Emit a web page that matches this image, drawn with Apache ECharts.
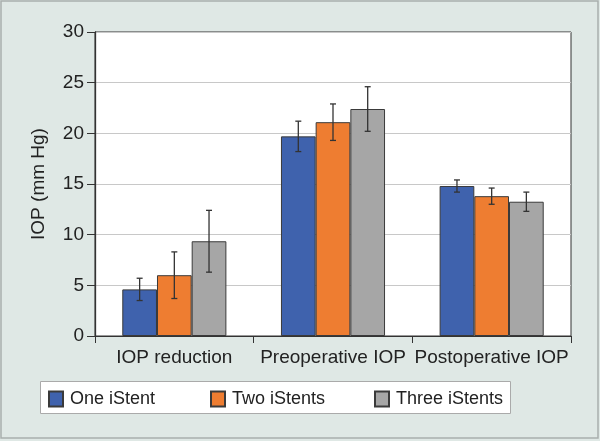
<!DOCTYPE html>
<html>
<head>
<meta charset="utf-8">
<script src="https://cdn.jsdelivr.net/npm/echarts@6/dist/echarts.min.js"></script>
<style>html,body{margin:0;padding:0;background:#dfe8e5;}#c{width:600px;height:441px;}</style>
</head>
<body>
<div id="c"></div>
<script>
var categories = ['IOP reduction', 'Preoperative IOP', 'Postoperative IOP'];
var seriesNames = ['One iStent', 'Two iStents', 'Three iStents'];
var colors = ['#3f62ad', '#ee7d31', '#a6a6a6'];
var oneMean = [4.6, 19.7, 14.8];
var oneErr = [1.1, 1.5, 0.6];
var twoMean = [6.0, 21.1, 13.8];
var twoErr = [2.3, 1.8, 0.8];
var threeMean = [9.35, 22.4, 13.25];
var threeErr = [3.05, 2.2, 0.95];
var yTicks = [0, 5, 10, 15, 20, 25, 30];

var means = [oneMean, twoMean, threeMean];
var errs = [oneErr, twoErr, threeErr];
var gapFrac = 0.344;

var FONT = 'Liberation Sans, Arial, sans-serif';
var chart = echarts.init(document.getElementById('c'));

var series = [];
means.forEach(function (m, k) {
  series.push({
    name: seriesNames[k],
    type: 'bar',
    data: m,
    barGap: '0%',
    barCategoryGap: (gapFrac * 100) + '%',
    itemStyle: { color: colors[k], borderColor: '#3a3a3a', borderWidth: 1 },
    emphasis: { disabled: true }
  });
});
means.forEach(function (m, k) {
  series.push({
    type: 'custom',
    silent: true,
    z: 10,
    data: m.map(function (v, i) { return [i, v - errs[k][i], v + errs[k][i]]; }),
    renderItem: function (params, api) {
      var ci = api.value(0);
      var lo = api.coord([ci, api.value(1)]);
      var hi = api.coord([ci, api.value(2)]);
      var band = api.size([1, 0])[0];
      var bw = band * (1 - gapFrac) / 3;
      var x = lo[0] + (k - 1) * bw;
      var c = 3;
      var st = { stroke: '#333', lineWidth: 1.3 };
      return {
        type: 'group',
        children: [
          { type: 'line', shape: { x1: x, y1: lo[1], x2: x, y2: hi[1] }, style: st },
          { type: 'line', shape: { x1: x - c, y1: lo[1], x2: x + c, y2: lo[1] }, style: st },
          { type: 'line', shape: { x1: x - c, y1: hi[1], x2: x + c, y2: hi[1] }, style: st }
        ]
      };
    }
  });
});

var legends = [48, 210, 374].map(function (l, k) {
  return {
    data: [seriesNames[k]],
    left: l,
    top: 390,
    padding: 0,
    itemWidth: 14,
    itemHeight: 15,
    selectedMode: false,
    icon: 'rect',
    textStyle: { fontFamily: FONT, fontSize: 18, color: '#222', padding: [0, 0, 0, 2] }
  };
});

chart.setOption({
  backgroundColor: '#dfe8e5',
  animation: false,
  graphic: [
    { type: 'rect', shape: { x: 1, y: 1, width: 597, height: 437 }, style: { fill: 'none', stroke: '#a9afad', lineWidth: 1.5 }, z: -10 },
    { type: 'rect', shape: { x: 40.5, y: 381.5, width: 470, height: 32 }, style: { fill: '#fff', stroke: '#aaa', lineWidth: 1 }, z: -5 }
  ],
  legend: legends,
  grid: { left: 95, right: 29, top: 32, bottom: 105, show: true, backgroundColor: '#fff', borderColor: '#333', borderWidth: 1 },
  xAxis: {
    type: 'category',
    data: categories,
    axisLine: { lineStyle: { color: '#333', width: 1 } },
    axisTick: { show: true, length: 7, lineStyle: { color: '#333' } },
    axisLabel: { fontFamily: FONT, fontSize: 19, color: '#222', margin: 12, interval: 0 }
  },
  yAxis: {
    type: 'value',
    min: 0, max: 30, interval: 5,
    name: 'IOP (mm Hg)',
    nameLocation: 'middle',
    nameGap: 47,
    nameTextStyle: { fontFamily: FONT, fontSize: 19, color: '#222' },
    axisLine: { show: true, lineStyle: { color: '#333', width: 1.3 } },
    axisTick: { show: true, length: 8, lineStyle: { color: '#333' } },
    axisLabel: { fontFamily: FONT, fontSize: 19, color: '#222', margin: 11,
      formatter: function (v) { return yTicks.indexOf(v) >= 0 ? String(v) : ''; } },
    splitLine: { lineStyle: { color: '#c8c8c8', width: 1 } }
  },
  series: series
});
</script>
</body>
</html>
